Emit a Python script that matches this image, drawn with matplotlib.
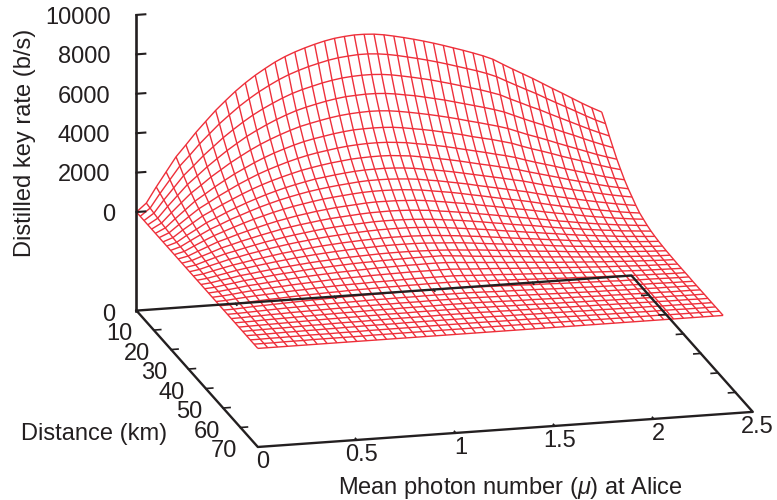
import matplotlib
matplotlib.use('Agg')
import matplotlib.pyplot as plt
import numpy as np

plt.rcParams['font.family'] = ['Liberation Sans', 'DejaVu Sans']
plt.rcParams['mathtext.fontset'] = 'custom'
plt.rcParams['mathtext.rm'] = 'Liberation Sans'
plt.rcParams['mathtext.it'] = 'Liberation Sans:italic'

# grid of the surface
mu_grid = [0, 0.05, 0.1, 0.15, 0.2, 0.25, 0.3, 0.35, 0.4, 0.45, 0.5, 0.55, 0.6, 0.65, 0.7, 0.75,
           0.8, 0.85, 0.9, 0.95, 1.0, 1.05, 1.1, 1.15, 1.2, 1.25, 1.3, 1.35, 1.4, 1.45, 1.5, 1.55,
           1.6, 1.65, 1.7, 1.75, 1.8, 1.85, 1.9, 1.95, 2.0, 2.05, 2.1, 2.15, 2.2, 2.25, 2.3, 2.35]
dist_grid = [0, 2.1875, 4.375, 6.5625, 8.75, 10.9375, 13.125, 15.3125, 17.5, 19.6875, 21.875,
             24.0625, 26.25, 28.4375, 30.625, 32.8125, 35, 37.1875, 39.375, 41.5625, 43.75,
             45.9375, 48.125, 50.3125, 52.5, 54.6875, 56.875, 59.0625, 61.25, 63.4375, 65.625,
             67.8125, 70]

# key rate in b/s, one row per distance, one column per mu
rate = [
    [0, 420, 1200, 1930, 2660, 3230, 3820, 4350, 4870, 5330, 5770, 6160, 6510, 6820, 7110, 7350, 7550, 7720, 7870, 8000, 8100, 8160, 8200, 8200, 8170,
     8100, 8000, 7890, 7770, 7640, 7500, 7350, 7190, 7030, 6860, 6680, 6470, 6180, 5900, 5630, 5360, 5070, 4780, 4500, 4210, 3920, 3650, 3400],
    [0, 380, 1090, 1750, 2410, 2920, 3460, 3940, 4410, 4820, 5220, 5570, 5890, 6170, 6430, 6650, 6830, 6990, 7120, 7240, 7330, 7380, 7420, 7420, 7385,
     7320, 7230, 7120, 7010, 6890, 6760, 6620, 6470, 6320, 6170, 6000, 5800, 5540, 5290, 5040, 4800, 4530, 4270, 4020, 3760, 3500, 3250, 3030],
    [0, 340, 970, 1550, 2140, 2600, 3080, 3500, 3920, 4290, 4640, 4960, 5240, 5490, 5720, 5920, 6080, 6210, 6340, 6440, 6520, 6565, 6590, 6590, 6560,
     6500, 6410, 6315, 6210, 6100, 5970, 5840, 5700, 5560, 5420, 5260, 5090, 4850, 4630, 4400, 4190, 3950, 3720, 3490, 3260, 3030, 2820, 2620],
    [0, 300, 860, 1380, 1900, 2310, 2730, 3110, 3480, 3810, 4130, 4400, 4650, 4880, 5080, 5260, 5400, 5520, 5630, 5720, 5790, 5820, 5845, 5840, 5810,
     5750, 5665, 5585, 5480, 5370, 5260, 5130, 5000, 4870, 4740, 4600, 4440, 4230, 4020, 3820, 3630, 3420, 3210, 3020, 2810, 2610, 2420, 2240],
    [0, 270, 760, 1230, 1690, 2050, 2430, 2760, 3090, 3380, 3660, 3910, 4130, 4330, 4510, 4670, 4790, 4900, 5000, 5080, 5135, 5170, 5190, 5180, 5145,
     5080, 5000, 4910, 4815, 4710, 4600, 4480, 4350, 4230, 4100, 3970, 3820, 3630, 3440, 3270, 3090, 2900, 2720, 2540, 2360, 2180, 2020, 1870],
    [0, 240, 670, 1080, 1490, 1810, 2140, 2440, 2730, 2980, 3230, 3450, 3650, 3820, 3980, 4120, 4230, 4320, 4410, 4480, 4535, 4555, 4565, 4555, 4525,
     4465, 4385, 4305, 4215, 4110, 4010, 3900, 3770, 3660, 3550, 3420, 3290, 3110, 2940, 2790, 2630, 2460, 2300, 2150, 1990, 1840, 1690, 1560],
    [0, 210, 590, 960, 1320, 1600, 1890, 2150, 2410, 2640, 2860, 3050, 3220, 3380, 3520, 3640, 3740, 3820, 3900, 3960, 4000, 4025, 4030, 4015, 3975,
     3925, 3840, 3765, 3675, 3580, 3470, 3360, 3250, 3140, 3020, 2910, 2780, 2620, 2470, 2330, 2190, 2040, 1900, 1760, 1630, 1490, 1370, 1260],
    [0, 180, 530, 850, 1170, 1420, 1680, 1910, 2140, 2350, 2540, 2710, 2860, 3000, 3130, 3230, 3320, 3400, 3460, 3520, 3550, 3570, 3575, 3560, 3515,
     3470, 3390, 3310, 3220, 3130, 3030, 2920, 2810, 2710, 2600, 2490, 2370, 2230, 2100, 1970, 1840, 1700, 1580, 1460, 1340, 1220, 1120, 1020],
    [0, 160, 470, 750, 1040, 1260, 1490, 1700, 1900, 2080, 2250, 2400, 2540, 2660, 2770, 2870, 2940, 3010, 3070, 3120, 3150, 3160, 3165, 3145, 3110,
     3055, 2975, 2900, 2820, 2730, 2630, 2530, 2430, 2330, 2230, 2120, 2020, 1890, 1760, 1640, 1530, 1410, 1300, 1200, 1090, 990, 900, 820],
    [0, 150, 420, 680, 930, 1130, 1340, 1520, 1700, 1870, 2020, 2160, 2280, 2390, 2490, 2570, 2640, 2700, 2750, 2800, 2830, 2835, 2830, 2805, 2770,
     2720, 2640, 2570, 2480, 2390, 2300, 2190, 2090, 1990, 1890, 1790, 1690, 1570, 1450, 1350, 1240, 1140, 1040, 940, 850, 760, 680, 610],
    [0, 130, 370, 600, 820, 1000, 1180, 1350, 1510, 1650, 1790, 1910, 2020, 2110, 2200, 2280, 2340, 2390, 2440, 2480, 2500, 2505, 2495, 2475, 2435,
     2385, 2310, 2235, 2160, 2070, 1970, 1880, 1780, 1680, 1590, 1500, 1400, 1290, 1180, 1080, 990, 900, 810, 730, 650, 570, 500, 440],
    [0, 110, 320, 520, 720, 870, 1030, 1170, 1310, 1440, 1560, 1660, 1760, 1840, 1920, 1980, 2040, 2080, 2120, 2160, 2180, 2175, 2170, 2145, 2120,
     2070, 2000, 1930, 1850, 1780, 1690, 1600, 1520, 1430, 1340, 1260, 1170, 1070, 980, 900, 820, 730, 650, 580, 510, 450, 390, 340],
    [0, 100, 280, 450, 630, 760, 900, 1020, 1140, 1250, 1360, 1450, 1530, 1600, 1670, 1730, 1770, 1810, 1850, 1880, 1890, 1900, 1890, 1870, 1830,
     1790, 1720, 1660, 1590, 1520, 1440, 1360, 1280, 1200, 1120, 1040, 960, 880, 790, 720, 640, 570, 500, 440, 380, 330, 280, 240],
    [0, 90, 250, 400, 550, 660, 780, 890, 1000, 1090, 1180, 1260, 1330, 1400, 1460, 1510, 1550, 1580, 1610, 1640, 1650, 1650, 1640, 1620, 1590,
     1550, 1495, 1440, 1380, 1310, 1240, 1160, 1090, 1010, 940, 880, 800, 720, 650, 590, 520, 460, 400, 350, 290, 250, 210, 170],
    [0, 80, 220, 350, 480, 580, 690, 780, 880, 960, 1040, 1110, 1170, 1230, 1280, 1320, 1360, 1390, 1420, 1440, 1450, 1450, 1445, 1425, 1395,
     1355, 1305, 1250, 1190, 1130, 1070, 1000, 930, 870, 800, 740, 670, 610, 540, 480, 420, 370, 320, 270, 220, 190, 150, 120],
    [0, 70, 190, 300, 410, 500, 590, 670, 750, 830, 890, 950, 1010, 1060, 1100, 1140, 1170, 1200, 1220, 1240, 1250, 1245, 1240, 1220, 1200,
     1160, 1120, 1075, 1020, 970, 910, 850, 790, 730, 680, 620, 560, 510, 450, 390, 350, 300, 250, 220, 180, 140, 110, 85],
    [0, 60, 160, 260, 360, 440, 520, 590, 660, 720, 780, 830, 880, 920, 960, 990, 1020, 1040, 1060, 1080, 1085, 1085, 1080, 1065, 1035,
     1005, 975, 935, 885, 830, 780, 730, 680, 630, 580, 530, 470, 420, 370, 330, 280, 240, 210, 170, 130, 110, 80, 60],
    [0, 50, 140, 220, 310, 370, 440, 500, 560, 610, 660, 710, 750, 780, 820, 850, 870, 890, 910, 920, 925, 925, 915, 900, 885,
     860, 825, 785, 755, 710, 660, 620, 570, 530, 480, 440, 400, 350, 310, 270, 230, 200, 160, 130, 110, 80, 60, 40],
    [0, 40, 120, 190, 270, 320, 380, 440, 490, 530, 580, 620, 650, 680, 710, 740, 760, 770, 790, 800, 810, 820, 820, 820, 820,
     780, 740, 690, 650, 610, 570, 530, 490, 450, 410, 370, 340, 300, 260, 230, 190, 160, 130, 110, 80, 60, 40, 30],
    [0, 40, 100, 160, 230, 270, 320, 370, 410, 450, 490, 520, 550, 580, 600, 620, 640, 660, 670, 680, 690, 690, 700, 700, 690,
     660, 620, 590, 550, 520, 480, 450, 420, 380, 350, 310, 280, 250, 220, 190, 160, 140, 110, 90, 70, 50, 30, 20],
    [0, 30, 80, 140, 190, 230, 270, 300, 340, 370, 400, 430, 460, 480, 500, 510, 530, 540, 550, 560, 570, 570, 570, 570, 570,
     540, 510, 480, 460, 430, 400, 370, 340, 320, 280, 260, 230, 200, 180, 150, 130, 110, 90, 70, 50, 40, 30, 10],
    [0, 20, 70, 110, 150, 180, 210, 240, 270, 290, 320, 340, 360, 380, 390, 400, 420, 420, 430, 440, 450, 450, 450, 450, 450,
     430, 400, 380, 360, 340, 310, 290, 270, 250, 220, 200, 180, 160, 140, 120, 100, 90, 70, 50, 40, 30, 20, 10],
    [0, 20, 50, 90, 120, 150, 170, 200, 220, 240, 260, 280, 290, 310, 320, 330, 340, 350, 350, 360, 360, 370, 370, 370, 370,
     350, 330, 310, 300, 280, 260, 240, 220, 200, 180, 160, 150, 130, 110, 100, 80, 70, 50, 40, 30, 20, 10, 10],
    [0, 10, 40, 70, 90, 110, 130, 150, 170, 190, 200, 220, 230, 240, 250, 260, 260, 270, 280, 280, 280, 290, 290, 290, 290,
     270, 260, 240, 230, 210, 200, 180, 170, 160, 140, 130, 120, 100, 90, 80, 60, 60, 40, 40, 30, 20, 10, 10],
    [0, 10, 30, 50, 70, 90, 110, 120, 140, 150, 160, 170, 180, 190, 200, 210, 210, 220, 220, 220, 230, 230, 230, 230, 230,
     220, 210, 190, 180, 170, 160, 150, 140, 120, 110, 100, 90, 80, 70, 60, 50, 40, 30, 30, 20, 10, 10, 0],
    [0, 10, 30, 40, 60, 70, 90, 100, 110, 120, 130, 140, 150, 160, 160, 170, 170, 180, 180, 180, 190, 190, 190, 190, 190,
     180, 170, 160, 150, 140, 130, 120, 110, 100, 90, 80, 70, 60, 60, 50, 40, 40, 30, 20, 20, 10, 10, 0],
    [0, 10, 20, 40, 50, 60, 70, 80, 90, 100, 110, 120, 120, 130, 140, 140, 140, 150, 150, 150, 150, 160, 160, 160, 160,
     150, 140, 130, 120, 110, 110, 100, 90, 80, 80, 70, 60, 50, 50, 40, 40, 30, 20, 20, 10, 10, 10, 0],
    [0, 10, 20, 30, 40, 50, 60, 70, 80, 90, 90, 100, 100, 110, 110, 120, 120, 120, 130, 130, 130, 130, 130, 130, 130,
     120, 120, 110, 100, 100, 90, 80, 70, 70, 60, 50, 50, 40, 30, 30, 30, 20, 10, 10, 10, 0, 0, 0],
    [0, 10, 20, 30, 30, 40, 50, 60, 60, 70, 80, 80, 80, 90, 90, 100, 100, 100, 100, 100, 110, 110, 110, 110, 110,
     100, 100, 90, 90, 80, 80, 70, 70, 60, 60, 50, 50, 40, 40, 30, 30, 20, 20, 10, 10, 10, 0, 0],
    [0, 0, 10, 20, 30, 30, 40, 40, 50, 50, 60, 60, 70, 70, 70, 70, 80, 80, 80, 80, 80, 80, 80, 80, 80,
     80, 70, 70, 70, 60, 60, 60, 50, 50, 40, 40, 40, 30, 30, 20, 20, 20, 10, 10, 10, 0, 0, 0],
    [0, 0, 10, 10, 20, 20, 30, 30, 30, 40, 40, 40, 50, 50, 50, 50, 50, 50, 60, 60, 60, 60, 60, 60, 60,
     50, 50, 50, 50, 40, 40, 40, 40, 30, 30, 30, 20, 20, 20, 20, 10, 10, 10, 10, 0, 0, 0, 0],
    [0, 0, 0, 10, 10, 10, 20, 20, 20, 20, 20, 20, 30, 30, 30, 30, 30, 30, 30, 30, 30, 30, 30, 30, 30,
     30, 30, 30, 30, 20, 20, 20, 20, 20, 20, 10, 10, 10, 10, 10, 10, 10, 0, 0, 0, 0, 0, 0],
    [0] * 48,
]

rate_ticks = [0, 2000, 4000, 6000, 8000, 10000]
dist_ticks = [0, 10, 20, 30, 40, 50, 60, 70]
mu_ticks = [0, 0.5, 1, 1.5, 2, 2.5]
mu_labels = ['0', '0.5', '1', '1.5', '2', '2.5']

ink = '#231f20'
red = '#ee2f3a'
floor = -5000

fig = plt.figure(figsize=(7.77, 5.0), dpi=100)
ax = fig.add_axes([-0.044, -0.452, 1.2, 2.0], projection='3d', proj_type='ortho', computed_zorder=False)
ax.view_init(elev=16.39, azim=-104.1)
ax.set_xlim(0, 2.5, view_margin=0)
ax.set_ylim(70, 0, view_margin=0)
ax.set_zlim(floor, 10000, view_margin=0)
ax.set_box_aspect((509, 497, 307.4), zoom=0.809)
ax.set_axis_off()

MU, D = np.meshgrid(mu_grid, dist_grid)
ax.plot_wireframe(MU, D, np.array(rate), rstride=1, cstride=1, color=red, linewidth=1.0, zorder=1)

# frame on the floor and the rate axis
ax.plot([0, 2.5, 2.5, 0, 0], [0, 0, 70, 70, 0], [floor] * 5, color=ink, lw=1.7, zorder=3)
ax.plot([0, 0], [0, 0], [floor, 10000], color=ink, lw=1.9, zorder=3)
for z in rate_ticks:
    ax.plot([0, 0.045], [0, 0], [z, z], color=ink, lw=1.5, zorder=3)
    lab_x = -0.106 if z == 0 else -0.131
    ax.text(lab_x, 0, z - 50, str(z), ha='right', va='center', fontsize=17, color=ink)
for d in dist_ticks:
    ax.text(-0.105, d, floor - 130, str(d), ha='right', va='center', fontsize=17, color=ink)
    if 0 < d < 70:
        ax.plot([0, 0.035], [d, d], [floor, floor], color=ink, lw=1.2, zorder=3)
        ax.plot([2.5, 2.465], [d, d], [floor, floor], color=ink, lw=1.2, zorder=3)
for m, lab in zip(mu_ticks, mu_labels):
    ax.text(m + 0.025, 70, floor - 780, lab, ha='center', va='center', fontsize=17, color=ink)
    if 0 < m < 2.5:
        ax.plot([m, m], [70, 69.2], [floor, floor], color=ink, lw=1.2, zorder=3)
        ax.plot([m, m], [0, 0.8], [floor, floor], color=ink, lw=1.2, zorder=3)

fig.text(25 / 777, 1 - 142.5 / 500, 'Distilled key rate (b/s)', rotation=90, ha='center', va='center', fontsize=17, color=ink)
fig.text(94 / 777, 1 - 434 / 500, 'Distance (km)', ha='center', va='center', fontsize=17, color=ink)
fig.text(510 / 777, 1 - 488 / 500, r'Mean photon number ($\mu$) at Alice', ha='center', va='center', fontsize=17, color=ink)

fig.savefig('out.png', dpi=100)
